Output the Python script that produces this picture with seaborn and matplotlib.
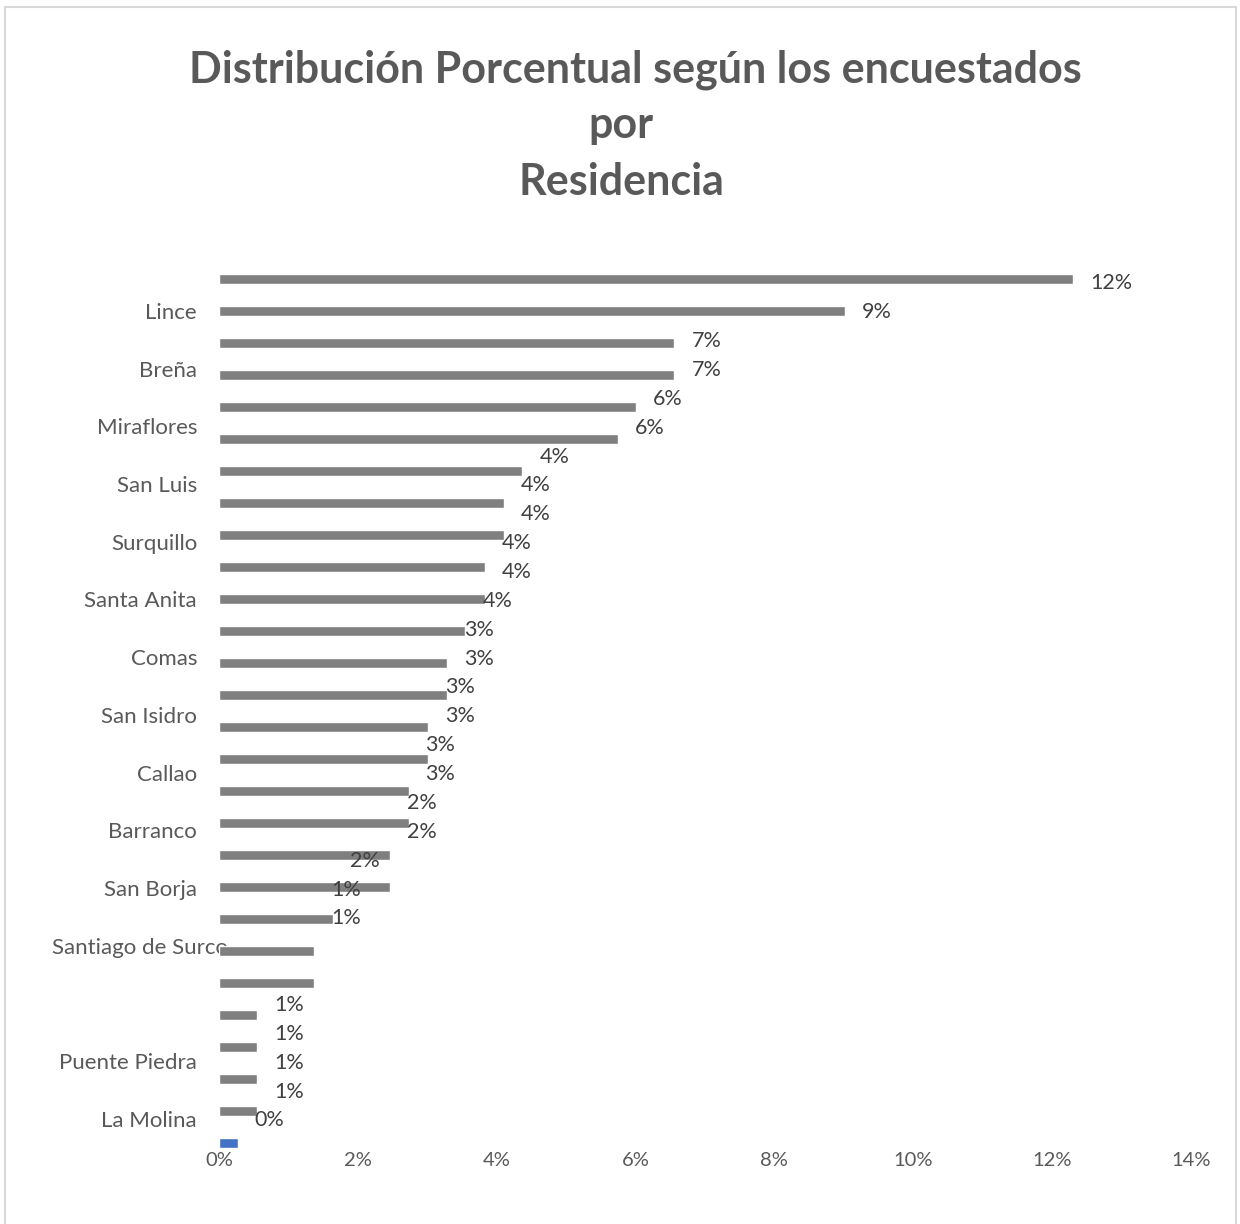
import numpy as np
import pandas as pd
import seaborn as sns
import matplotlib.pyplot as plt
import matplotlib.transforms as mtransforms
from matplotlib.patches import Rectangle

# Share of respondents by district of residence (%), largest first
share_pct = [12.30, 9.02, 6.56, 6.56, 6.01, 5.74, 4.37, 4.10, 4.10, 3.83,
             3.83, 3.55, 3.28, 3.28, 3.01, 3.01, 2.73, 2.73, 2.46, 2.46,
             1.64, 1.37, 1.37, 0.55, 0.55, 0.55, 0.55, 0.27]
bar_group = ["resto"] * 27 + ["ultimo"]

# Rows (in label-row units) where each value label sits
label_rows = list(range(1, 24)) + list(range(26, 31))

# District names shown on the category axis (every second row)
district_names = ["Lince", "Breña", "Miraflores", "San Luis", "Surquillo",
                  "Santa Anita", "Comas", "San Isidro", "Callao", "Barranco",
                  "San Borja", "Santiago de Surco", "", "Puente Piedra",
                  "La Molina"]
district_rows = list(range(2, 31, 2))

x_ticks = [0, 2, 4, 6, 8, 10, 12, 14]

title_lines = ["Distribución Porcentual según los encuestados", "por", "Residencia"]

# ---- layout (pixels) ----
W, H = 1240, 1224
ROW_PX = 28.86          # spacing of label rows
BAR_PX = 32.0           # spacing of bars
X0_PX, X1_PX = 219, 1191
TOP_PX, BOT_PX = 262, 1151
PX_PER_PCT = (X1_PX - X0_PX) / 14.0

bar_rows = 1 + (np.arange(len(share_pct)) * BAR_PX - 3) / ROW_PX

df = pd.DataFrame({"share": share_pct, "row": bar_rows, "group": bar_group})

sns.set_theme(style="white")
plt.rcParams["font.family"] = ["Lato", "DejaVu Sans"]

fig = plt.figure(figsize=(W / 100, H / 100), dpi=100)
ax = fig.add_axes([X0_PX / W, 1 - BOT_PX / H,
                   (X1_PX - X0_PX) / W, (BOT_PX - TOP_PX) / H])

sns.barplot(data=df, x="share", y="row", hue="group", orient="y",
            native_scale=True, width=10 / BAR_PX, errorbar=None,
            palette={"resto": "#7F7F7F", "ultimo": "#4472C4"},
            saturation=1, legend=False, ax=ax)

ax.set_xlim(0, 14)
ax.set_ylim(1 + (BOT_PX - 282) / ROW_PX, 1 + (TOP_PX - 282) / ROW_PX)
ax.set_xlabel("")
ax.set_ylabel("")
for sp in ax.spines.values():
    sp.set_visible(False)

ax.set_xticks(x_ticks)
ax.set_xticklabels([f"{t}%" for t in x_ticks])
ax.set_yticks(district_rows)
ax.set_yticklabels(district_names)
ax.tick_params(axis="x", length=0, pad=1, labelsize=14.5, labelcolor="#595959")
ax.tick_params(axis="y", length=0, pad=15.8, labelsize=16, labelcolor="#595959")

# value labels
off = 17 / PX_PER_PCT
for v, r in zip(share_pct, label_rows):
    ax.text(v + off, r + 0.05, f"{v:.0f}%", ha="left", va="center",
            fontsize=15.5, color="#404040")

# the long district name spills over the axis
lbl = ax.get_yticklabels()[11]
lbl.set_transform(lbl.get_transform() +
                  mtransforms.ScaledTranslation(31 / 100, 0, fig.dpi_scale_trans))

# title
for txt, xc, base in zip(title_lines, [635, 621, 621], [82, 138, 195]):
    fig.text(xc / W, 1 - base / H, txt, ha="center", va="baseline",
             fontsize=31, fontweight="bold", color="#595959")

# chart-area border
fig.patches.append(Rectangle((5 / W, -0.01), (1236 - 5) / W, 1.01 - 7 / H,
                             transform=fig.transFigure, fill=False,
                             edgecolor="#D9D9D9", linewidth=1.5))

fig.savefig("out.png", dpi=100)
